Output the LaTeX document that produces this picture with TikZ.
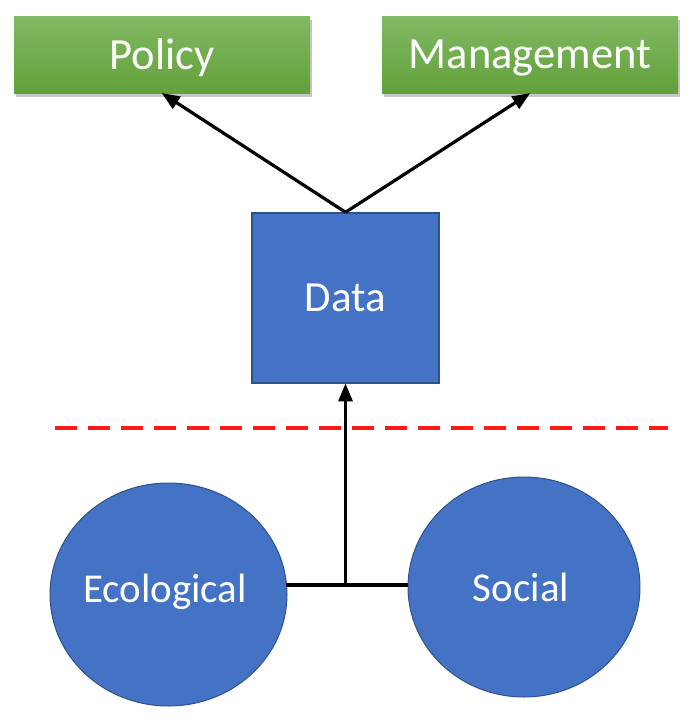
\documentclass[tikz,border=0pt]{standalone}
\usepackage{fontspec}
\setmainfont{Carlito}
\usetikzlibrary{arrows,shapes,shadows}
\definecolor{boxgreen1}{HTML}{82B964}
\definecolor{boxgreen2}{HTML}{62A13A}
\definecolor{datablue}{HTML}{4472C4}
\definecolor{edgeblue}{HTML}{2F528F}
\definecolor{dashred}{HTML}{FF1A1A}
\begin{document}
\begin{tikzpicture}[x=1pt, y=-1pt,
	topbox/.style={rectangle, minimum width=296pt, minimum height=77pt, inner sep=0pt,
		top color=boxgreen1, bottom color=boxgreen2, draw=none, text=white,
		text depth=0pt,
		drop shadow={opacity=0.45, shadow xshift=2pt, shadow yshift=-4pt},
		font=\fontsize{44.5}{48}\selectfont},
	bluebox/.style={rectangle, minimum width=187pt, minimum height=170pt, inner sep=0pt,
		fill=datablue, draw=edgeblue, line width=1.5pt, text=white,
		font=\fontsize{43}{48}\selectfont},
	blueball/.style={ellipse, inner sep=0pt, fill=datablue, draw=edgeblue, line width=1pt},
	balltext/.style={text=white, font=\fontsize{41}{46}\selectfont},
	link/.style={line width=3.2pt, black},
	arrow/.style={link, -triangle 45}]
	
	\useasboundingbox (0,0) rectangle (700,726);
	
	% outcomes
	\node[topbox] (pol) at (162,54.5) {Policy};
	\node[topbox] (man) at (530,54.5) {Management};
	
	\node[bluebox] (data) at (345.5,298) {Data};
	
	% sources
	\node[blueball, minimum width=237pt, minimum height=223pt] (eco) at (168.5,594.5) {};
	\node[balltext] (ecotxt) at (165,592) {Ecological};
	\node[blueball, minimum width=232pt, minimum height=220pt] (soc) at (524,587) {};
	\node[balltext] (soctxt) at (521,587) {Social};
	
	\draw[dashred, line width=4pt, dash pattern=on 22pt off 11pt] (55,428) -- (668,428);
	
	\coordinate (j) at (345.5,585);
	\draw[link] (j -| eco.east) ++(-2,0) -- (j -| soc.west);
	\draw[arrow] (j) -- (data.south);
	
	\draw[arrow] (data.north) -- (pol.south);
	\draw[arrow] (data.north) -- (man.south);
	
\end{tikzpicture}
\end{document}
